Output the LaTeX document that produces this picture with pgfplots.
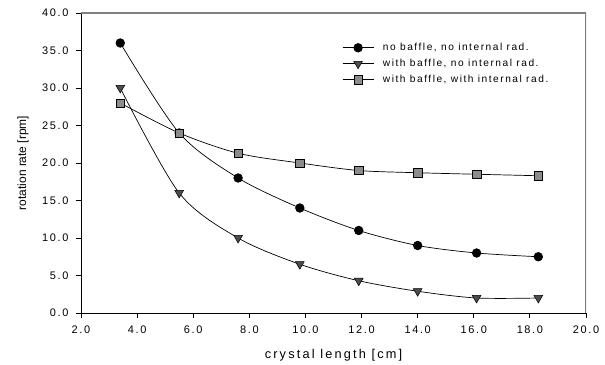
\documentclass[border=0pt]{standalone}
\usepackage{fontspec}
\setmainfont{Liberation Sans}
\newfontfamily\spaced[LetterSpace=15]{Liberation Sans}
\newfontfamily\spacedx[LetterSpace=17]{Liberation Sans}
\usepackage{pgfplots}
\pgfplotsset{compat=1.18}
\begin{document}
\begin{tikzpicture}
\begin{axis}[
 scale only axis, width=505bp, height=300bp,
 at={(0,0)}, anchor=south west,
 xmin=2, xmax=20, ymin=0, ymax=40,
 xtick={2,4,...,20}, ytick={0,5,...,40},
 axis x line*=bottom, axis y line*=left,
 x axis line style={-}, y axis line style={-},
 axis line style={line width=0.8bp, black},
 tick align=outside, major tick length=5bp,
 tick style={black, line width=0.8bp},
 /pgf/number format/assume math mode=true,
 xticklabel style={/pgf/number format/fixed, /pgf/number format/fixed zerofill, /pgf/number format/precision=1, font=\spaced\fontsize{11}{13}\selectfont, yshift=-4bp},
 yticklabel style={/pgf/number format/fixed, /pgf/number format/fixed zerofill, /pgf/number format/precision=1, font=\spaced\fontsize{11}{13}\selectfont, xshift=-4bp},
 xlabel={\spacedx crystal length [cm]},
 ylabel={rotation rate [rpm]},
 xlabel style={at={(axis description cs:0.5,-0.153)}, anchor=base, font=\fontsize{12.8}{14}\selectfont},
 ylabel style={at={(axis description cs:-0.115,0.5)}, anchor=center, font=\fontsize{12}{14}\selectfont},
 legend style={at={(rel axis cs:0.511,0.908)}, anchor=north west, draw=none, fill=none,
   font=\spaced\fontsize{10.2}{11}\selectfont, row sep=6bp,
   nodes={inner sep=0pt, text height=8bp, text depth=2bp},
   /tikz/every odd column/.style={column sep=9bp}},
 legend cell align=left,
 legend image code/.code={\draw[mark repeat=2, mark phase=2] plot coordinates {(0bp,0bp)(15.5bp,0bp)(31bp,0bp)};},
]
\addplot[black, line width=0.7bp, smooth, mark=*, mark size=4.3bp, mark options={solid, fill=black, draw=black}]
 coordinates {(3.4,36)(5.5,24)(7.6,18)(9.8,14)(11.9,11)(14.0,9)(16.1,8)(18.3,7.5)};
\addlegendentry{no baffle, no internal rad.}
\addplot[black, line width=0.7bp, smooth, mark=triangle*, mark size=5bp, mark options={solid, rotate=180, fill=black!70, draw=black, line width=0.5bp}]
 coordinates {(3.4,30)(5.5,16)(7.6,10)(9.8,6.5)(11.9,4.3)(14.0,2.9)(16.1,2.0)(18.3,2.0)};
\addlegendentry{with baffle, no internal rad.}
\addplot[black, line width=0.7bp, smooth, mark=square*, mark size=4.2bp, mark options={solid, fill=black!45, draw=black, line width=0.5bp}]
 coordinates {(3.4,28)(5.5,24)(7.6,21.3)(9.8,20)(11.9,19)(14.0,18.7)(16.1,18.5)(18.3,18.3)};
\addlegendentry{with baffle, with internal rad.}
\draw[black!50, line width=1.3bp] (rel axis cs:0,1) -- (rel axis cs:1,1) -- (rel axis cs:1,0);
\end{axis}
\path[use as bounding box] (-81bp,-52bp) rectangle (524bp,313bp);
\end{tikzpicture}
\end{document}
